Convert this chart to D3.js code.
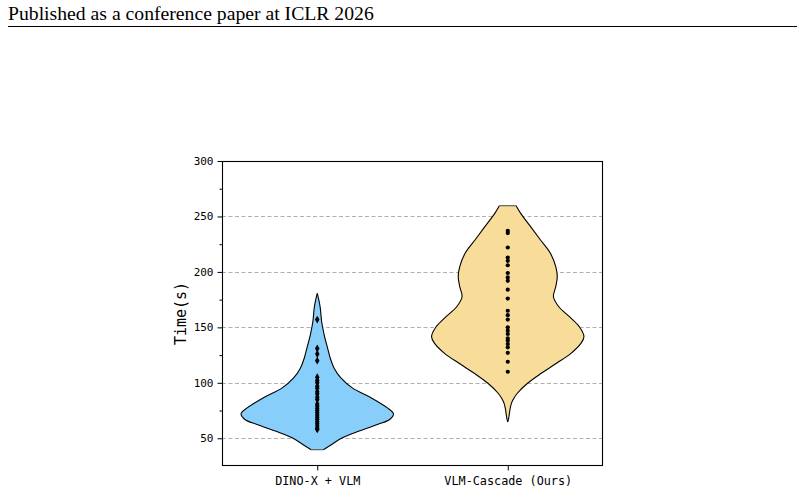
<!DOCTYPE html>
<html>
<head>
<meta charset="utf-8">
<script src="https://cdn.jsdelivr.net/npm/d3@7"></script>
<style>
  html, body { margin: 0; padding: 0; background: #fff; }
  svg { display: block; }
</style>
</head>
<body>
<svg id="chart" width="804" height="496"></svg>
<script>
// ---------- data ----------
const categories = ["DINO-X + VLM", "VLM-Cascade (Ours)"];
const yTicks = [50, 100, 150, 200, 250, 300];
const yMinorTicks = [75, 125, 175, 225, 275];

// individual run times (s)
const dinoTimes = [157, 131, 126, 120, 105, 102, 100, 97, 95, 92, 90, 87, 85, 81, 79, 77, 75, 73, 71, 69, 67, 65, 63, 61, 59, 58];
const cascadeTimes = [237, 235, 222, 213, 210, 206, 199, 195, 192, 184, 176, 165, 161, 157, 150, 147, 144, 140, 138, 135, 132, 127, 119, 110];

// violin density profiles (value in s, relative density 0..1)
const dinoProfileV = [39.7, 44.4, 50.4, 56.5, 62.4, 66.9, 72.1, 77.4, 86.4, 95.4, 104.4, 113.4, 122.4, 131.5, 143.5, 155.5, 167.5, 175, 180.7];
const dinoProfileW = [0.08, 0.19, 0.33, 0.55, 0.79, 0.95, 1.0, 0.92, 0.71, 0.46, 0.31, 0.22, 0.17, 0.135, 0.09, 0.057, 0.04, 0.02, 0.0];
const cascadeProfileV = [64.7, 68, 72.5, 77, 81.5, 86, 90.6, 99.6, 108.6, 117.6, 126.6, 135.6, 141.6, 150.6, 159.6, 168.6, 177.6, 186.7, 195.7, 204.7, 216.8, 228.8, 240.8, 252.8, 259.7];
const cascadeProfileW = [0.0, 0.012, 0.022, 0.032, 0.048, 0.08, 0.126, 0.26, 0.44, 0.64, 0.83, 0.96, 1.0, 0.94, 0.81, 0.67, 0.6, 0.63, 0.65, 0.63, 0.56, 0.43, 0.30, 0.17, 0.11];

const colors = ["#87CEFA", "#F7DC9A"];

// ---------- layout ----------
const svg = d3.select("#chart");
const plot = { left: 222, right: 603, top: 161, bottom: 466 };

// header
svg.append("text")
  .attr("x", 8).attr("y", 20)
  .attr("font-family", "'Liberation Serif', 'Times New Roman', serif")
  .attr("font-size", 19.7)
  .attr("fill", "#000")
  .text("Published as a conference paper at ICLR 2026");
svg.append("line")
  .attr("x1", 8).attr("x2", 797).attr("y1", 26.5).attr("y2", 26.5)
  .attr("stroke", "#000").attr("stroke-width", 1);

const x = d3.scaleLinear().domain([-0.5, 1.5]).range([plot.left, plot.right]);
const y = d3.scaleLinear().domain([25, 300]).range([plot.bottom, plot.top]);
const halfWidth = 0.4; // in category units

// grid
svg.append("g").selectAll("line")
  .data(yTicks.filter(t => t < 300))
  .join("line")
  .attr("x1", plot.left).attr("x2", plot.right)
  .attr("y1", d => Math.round(y(d)) + 0.5).attr("y2", d => Math.round(y(d)) + 0.5)
  .attr("stroke", "#b0b0b0").attr("stroke-width", 1)
  .attr("stroke-dasharray", "4,2.5");

// violins
const profiles = [
  dinoProfileV.map((v, i) => ({ v, w: dinoProfileW[i] })),
  cascadeProfileV.map((v, i) => ({ v, w: cascadeProfileW[i] }))
];
profiles.forEach((prof, ci) => {
  const area = d3.area()
    .curve(d3.curveCatmullRom.alpha(0.5))
    .y(d => y(d.v))
    .x0(d => x(ci - d.w * halfWidth))
    .x1(d => x(ci + d.w * halfWidth));
  svg.append("path")
    .datum(prof)
    .attr("d", area)
    .attr("fill", colors[ci])
    .attr("stroke", "none");
  const left = d3.line().curve(d3.curveCatmullRom.alpha(0.5))
    .x(d => x(ci - d.w * halfWidth)).y(d => y(d.v));
  const right = d3.line().curve(d3.curveCatmullRom.alpha(0.5))
    .x(d => x(ci + d.w * halfWidth)).y(d => y(d.v));
  [left, right].forEach(gen => {
    svg.append("path").datum(prof).attr("d", gen)
      .attr("fill", "none").attr("stroke", "#000").attr("stroke-width", 1.1);
  });
  const ends = [prof[0], prof[prof.length - 1]].filter(d => d.w > 0);
  svg.append("g").selectAll("line").data(ends).join("line")
    .attr("x1", d => x(ci - d.w * halfWidth)).attr("x2", d => x(ci + d.w * halfWidth))
    .attr("y1", d => y(d.v)).attr("y2", d => y(d.v))
    .attr("stroke", "#555").attr("stroke-width", 1.1);
});

// points
svg.append("g").selectAll("path")
  .data(dinoTimes)
  .join("path")
  .attr("transform", d => `translate(${x(0)},${y(d)})`)
  .attr("d", d3.symbol(d3.symbolDiamond, 18))
  .attr("fill", "#000");
svg.append("g").selectAll("circle")
  .data(cascadeTimes)
  .join("circle")
  .attr("cx", x(1)).attr("cy", d => y(d))
  .attr("r", 2.1)
  .attr("fill", "#000");

// frame
svg.append("rect")
  .attr("x", plot.left + 0.5).attr("y", plot.top + 0.5)
  .attr("width", plot.right - plot.left - 1).attr("height", plot.bottom - plot.top - 1)
  .attr("fill", "none").attr("stroke", "#000").attr("stroke-width", 1.1);

// y axis
const mono = "'DejaVu Sans Mono', monospace";
const yAxis = svg.append("g")
  .attr("transform", `translate(${plot.left + 0.5},0)`)
  .call(d3.axisLeft(y).tickValues(yTicks).tickSize(5).tickPadding(4).tickFormat(d3.format("d")));
yAxis.select(".domain").remove();
yAxis.selectAll("text").attr("font-family", mono).attr("font-size", 11).attr("fill", "#000");
yAxis.selectAll("line").attr("stroke", "#000");
const yMinor = svg.append("g")
  .attr("transform", `translate(${plot.left + 0.5},0)`)
  .call(d3.axisLeft(y).tickValues(yMinorTicks).tickSize(3).tickFormat(""));
yMinor.select(".domain").remove();
yMinor.selectAll("line").attr("stroke", "#000");

// x axis
const xAxis = svg.append("g")
  .attr("transform", `translate(0,${plot.bottom - 0.5})`)
  .call(d3.axisBottom(x).tickValues([0, 1]).tickSize(5).tickPadding(6).tickFormat(i => categories[i]));
xAxis.select(".domain").remove();
xAxis.selectAll("text").attr("font-family", mono).attr("font-size", 11.8).attr("fill", "#000");
xAxis.selectAll("line").attr("stroke", "#000");

// y label
svg.append("text")
  .attr("transform", `translate(186,${(plot.top + plot.bottom) / 2}) rotate(-90)`)
  .attr("text-anchor", "middle")
  .attr("font-family", mono)
  .attr("font-size", 15)
  .attr("fill", "#000")
  .text("Time(s)");
</script>
</body>
</html>
